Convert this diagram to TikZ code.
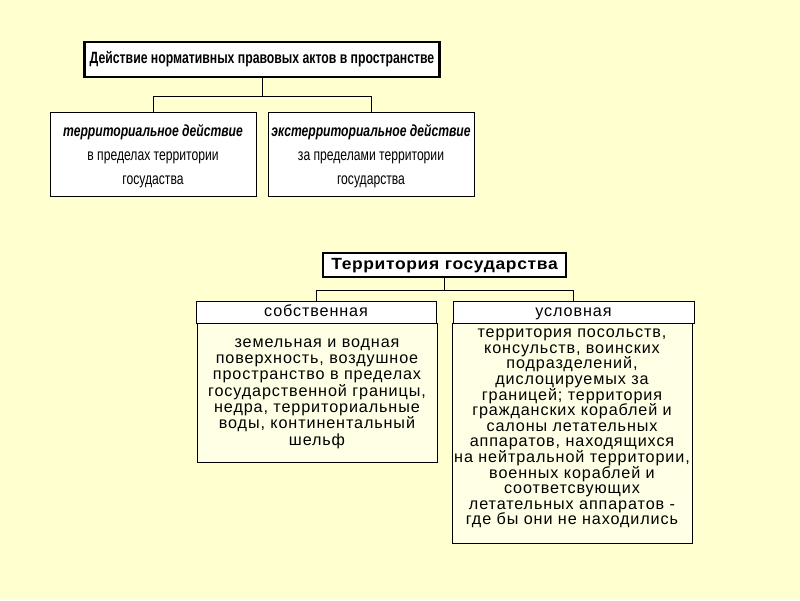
\documentclass[tikz,border=0pt]{standalone}
\usepackage{fontspec}
\setmainfont{Liberation Sans}
\newfontfamily\arialw[LetterSpace=5.5]{Liberation Sans}
\newfontfamily\arialt[LetterSpace=4,FakeStretch=1.08]{Liberation Sans}
\newfontfamily\narrow[FakeStretch=0.75]{Liberation Sans}
\usetikzlibrary{positioning}
\definecolor{bg}{RGB}{255,255,208}
\definecolor{pale}{RGB}{255,255,230}
\newcommand\tightlines{\lineskiplimit=-10pt\relax}
\tikzset{
  thickbox/.style={draw=black, line width=1.6pt, fill=white, inner sep=0pt, align=center},
  thinbox/.style={draw=black, line width=0.7pt, fill=white, inner sep=0pt, align=center},
  contentbox/.style={draw=black, line width=0.7pt, fill=pale, inner sep=0pt},
  link/.style={draw=black, line width=0.7pt},
  txt/.style={inner sep=0pt, align=center}
}
\begin{document}
\begin{tikzpicture}[x=0.025cm, y=-0.025cm]
\fill[bg] (0,0) rectangle (800,600);
\useasboundingbox (0,0) rectangle (800,600);
% upper diagram
\node[thickbox, minimum width=355*0.025cm, minimum height=35*0.025cm, font=\narrow\bfseries\fontsize{11.6}{14}\selectfont] (title) at (262,59.5) {Действие нормативных правовых актов в пространстве};
\node[thinbox, minimum width=206*0.025cm, minimum height=84*0.025cm] (terr) at (153,154) {};
\node[thinbox, minimum width=206*0.025cm, minimum height=84*0.025cm] (exterr) at (371,154) {};
\node[txt, font=\narrow\fontsize{11.5}{17}\selectfont] (terrt) at (153,156) {{\bfseries\itshape территориальное действие}\\в пределах территории\\госудаства};
\node[txt, font=\narrow\fontsize{11.5}{17}\selectfont] (exterrt) at (371,156) {{\bfseries\itshape экстерриториальное действие}\\за пределами территории\\государства};
\draw[link] (title.south) -- ++(0,18) coordinate (j1);
\draw[link] (j1) -| (terr.north);
\draw[link] (j1) -| (exterr.north);
% lower diagram
\node[thickbox, minimum width=243*0.025cm, minimum height=24*0.025cm, text height=0.67em, text depth=0.1em, font=\arialt\bfseries\fontsize{11.5}{13}\selectfont] (state) at (444.5,265.3) {Территория государства};
\node[contentbox, minimum width=240*0.025cm, minimum height=139*0.025cm] (ownc) at (317,393) {};
\node[contentbox, minimum width=240*0.025cm, minimum height=219.5*0.025cm] (condc) at (572,433.25) {};
\node[thinbox, minimum width=240*0.025cm, minimum height=22*0.025cm, text height=0.7em, text depth=0.1em, font=\arialw\fontsize{11.5}{13}\selectfont] (own) at (316,312.5) {собственная};
\node[thinbox, minimum width=241*0.025cm, minimum height=22*0.025cm, text height=0.7em, text depth=0.1em, font=\arialw\fontsize{11.5}{13}\selectfont] (cond) at (573.5,312.5) {условная};
\node[txt, font=\arialw\fontsize{11.5}{11.6}\selectfont\tightlines] (ownt) at (317,393.5) {земельная и водная\\поверхность, воздушное\\пространство в пределах\\государственной границы,\\недра, территориальные\\воды, континентальный\\шельф};
\node[txt, font=\arialw\fontsize{11.5}{11.1}\selectfont\tightlines] (condt) at (572,428.5) {территория посольств,\\консульств, воинских\\подразделений,\\дислоцируемых за\\границей; территория\\гражданских кораблей и\\салоны летательных\\аппаратов, находящихся\\на нейтральной территории,\\военных кораблей и\\соответсвующих\\летательных аппаратов -\\где бы они не находились};
\draw[link] (state.south) -- ++(0,12) coordinate (j2);
\draw[link] (j2) -| (own.north);
\draw[link] (j2) -| (cond.north);
\end{tikzpicture}
\end{document}
